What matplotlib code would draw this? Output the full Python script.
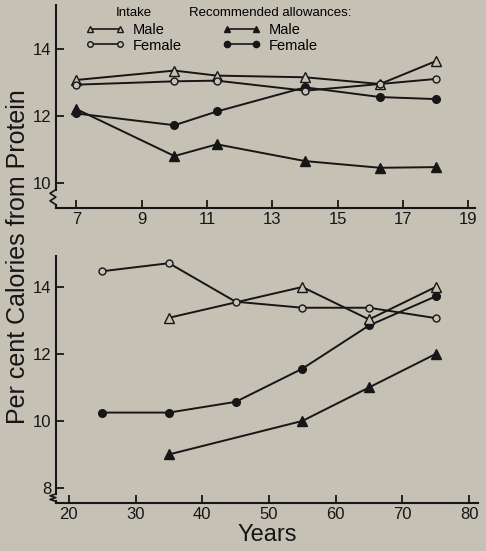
import numpy as np
import matplotlib
matplotlib.use("Agg")
import matplotlib.pyplot as plt
from matplotlib.lines import Line2D
from matplotlib.transforms import blended_transform_factory

plt.rcParams["font.family"] = ["Liberation Sans", "DejaVu Sans"]

# --- children (top panel) ---
age_child = [7, 10, 11.3, 14, 16.3, 18]
intake_male_child = [13.07, 13.35, 13.2, 13.15, 12.95, 13.63]
intake_female_child = [12.93, 13.03, 13.05, 12.75, 12.95, 13.1]
rec_male_child = [12.2, 10.8, 11.15, 10.65, 10.45, 10.47]
rec_female_child = [12.07, 11.72, 12.13, 12.85, 12.56, 12.5]

# --- adults (bottom panel) ---
age_male_adult = [35, 55, 65, 75]
intake_male_adult = [13.08, 14.0, 13.03, 14.0]
age_female_adult = [25, 35, 45, 55, 65, 75]
intake_female_adult = [14.47, 14.71, 13.56, 13.38, 13.38, 13.07]
age_rec_male_adult = [35, 55, 65, 75]
rec_male_adult = [9.0, 10.0, 11.0, 12.0]
age_rec_female_adult = [25, 35, 45, 55, 65, 75]
rec_female_adult = [10.25, 10.25, 10.57, 11.56, 12.85, 13.72]

bg = "#c6c1b5"
ink = "#161616"
lw = 1.4

fig = plt.figure(figsize=(4.86, 5.51), dpi=100, facecolor=bg)
ax1 = fig.add_axes([0.115, 0.6225, 0.862, 0.368])
ax2 = fig.add_axes([0.115, 0.0871, 0.868, 0.448])

style = {
    "im": dict(marker="^", mfc=bg, mec=ink, ms=6.5),
    "if": dict(marker="o", mfc=bg, mec=ink, ms=5),
    "rm": dict(marker="^", mfc=ink, mec=ink, ms=6.5),
    "rf": dict(marker="o", mfc=ink, mec=ink, ms=5.5),
}

ax1.plot(age_child, rec_male_child, color=ink, lw=lw, **style["rm"])
ax1.plot(age_child, rec_female_child, color=ink, lw=lw, **style["rf"])
ax1.plot(age_child, intake_male_child, color=ink, lw=lw, **style["im"])
ax1.plot(age_child, intake_female_child, color=ink, lw=lw, **style["if"])

ax2.plot(age_rec_male_adult, rec_male_adult, color=ink, lw=lw, **style["rm"])
ax2.plot(age_rec_female_adult, rec_female_adult, color=ink, lw=lw, **style["rf"])
ax2.plot(age_male_adult, intake_male_adult, color=ink, lw=lw, **style["im"])
ax2.plot(age_female_adult, intake_female_adult, color=ink, lw=lw, **style["if"])


def setup(ax, xlim, ylim, xticks, yticks, brk):
    ax.set_facecolor(bg)
    ax.set_xlim(*xlim)
    ax.set_ylim(*ylim)
    ax.set_xticks(xticks)
    ax.set_yticks(yticks)
    for s in ("top", "right"):
        ax.spines[s].set_visible(False)
    for s in ("left", "bottom"):
        ax.spines[s].set_color(ink)
        ax.spines[s].set_linewidth(1.5)
    ax.spines["left"].set_bounds(brk[0], ylim[1])
    ax.tick_params(direction="in", length=6, width=1.3, colors=ink,
                   labelsize=12, pad=3)
    # axis break zigzag
    tr = blended_transform_factory(ax.transAxes, ax.transData)
    y0, y1 = brk
    ys = np.linspace(y0, y1, 5)
    xs = [0, -0.014, 0.0, -0.014, 0.0]
    ax.plot(xs, ys, color=ink, lw=1.2, transform=tr, clip_on=False)
    ax.plot([0, 0], [y1, ylim[0]], color=ink, lw=1.5, transform=tr,
            clip_on=False)


setup(ax1, (6.37, 19.2), (9.25, 15.3), range(7, 20, 2), [10, 12, 14],
      (9.8, 9.35))
setup(ax2, (18.05, 81.3), (7.55, 14.92), range(20, 81, 10), [8, 10, 12, 14],
      (7.82, 7.6))

# legends
h_im = Line2D([], [], color=ink, lw=1.2, **{**style["im"], "ms": 4.5})
h_if = Line2D([], [], color=ink, lw=1.2, **{**style["if"], "ms": 4})
h_rm = Line2D([], [], color=ink, lw=1.2, **{**style["rm"], "ms": 4.5})
h_rf = Line2D([], [], color=ink, lw=1.2, **{**style["rf"], "ms": 4.5})

common = dict(loc="upper left", frameon=False, fontsize=10.5,
              title_fontsize=9.5, handlelength=2.6, handletextpad=0.6,
              labelspacing=0.12, borderaxespad=0, numpoints=2)
leg1 = ax1.legend([h_im, h_if], ["Male", "Female"], title="Intake",
                  bbox_to_anchor=(0.058, 1.022), **common)
leg1._legend_box.sep = 3
ax1.add_artist(leg1)
leg2 = ax1.legend([h_rm, h_rf], ["Male", "Female"],
                  title="Recommended allowances:",
                  bbox_to_anchor=(0.304, 1.022), **common)
leg2._legend_box.sep = 3

fig.text(0.037, 0.535, "Per cent Calories from Protein", rotation=90,
         ha="center", va="center", fontsize=18, color=ink)
ax2.set_xlabel("Years", fontsize=17, color=ink, labelpad=1)

fig.savefig("out.png", dpi=100, facecolor=bg)
